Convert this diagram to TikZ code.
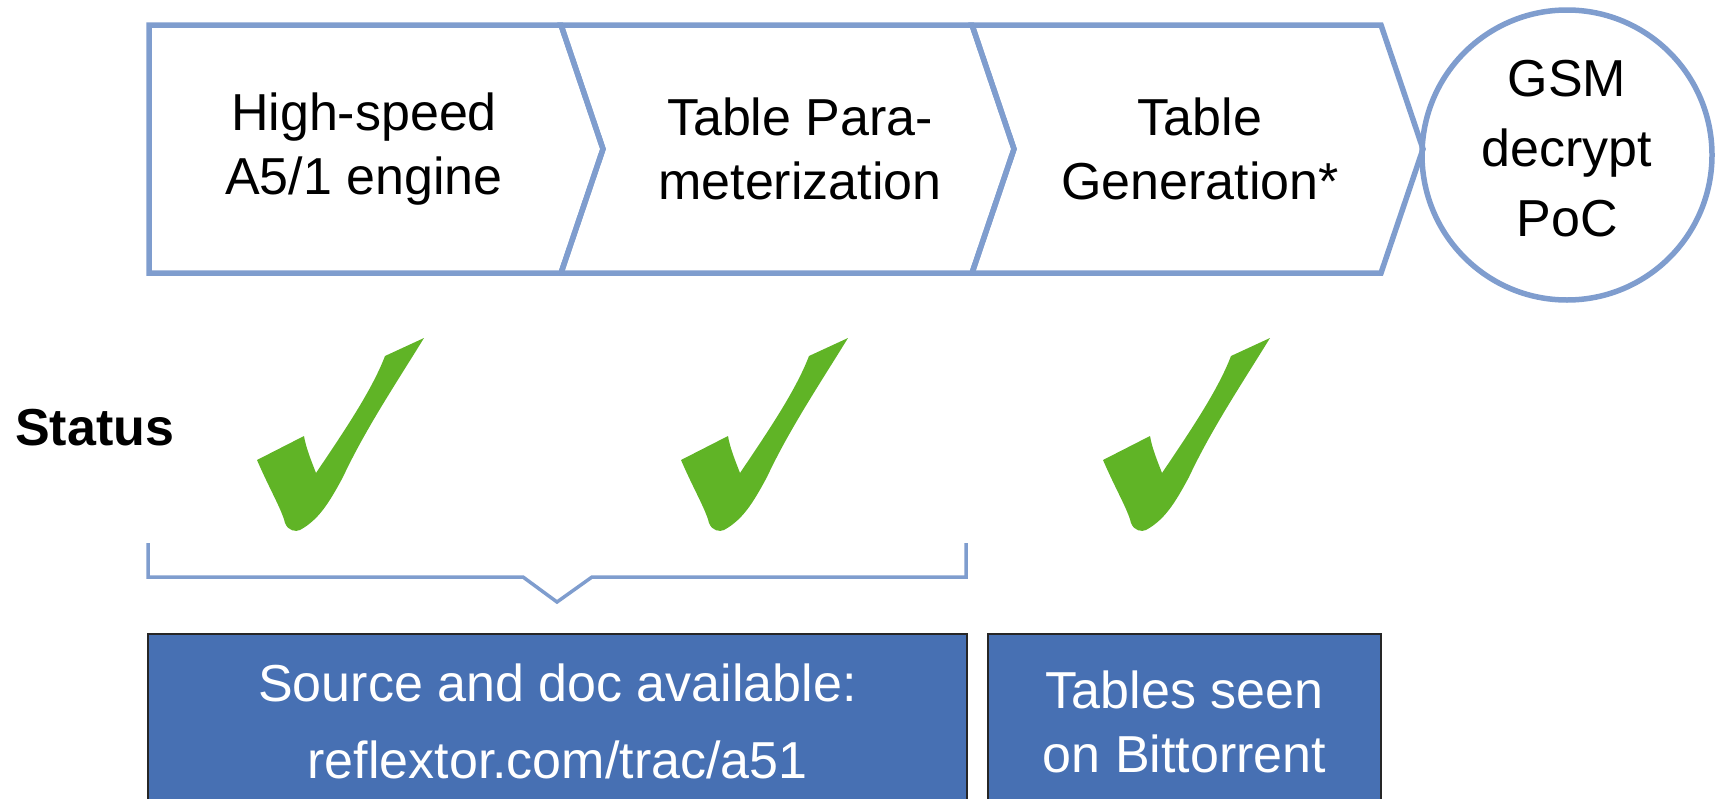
\documentclass[tikz,border=0pt]{standalone}
\usepackage{fontspec}
\setmainfont{Liberation Sans}
\usetikzlibrary{shapes.geometric}
\definecolor{chevline}{RGB}{127,157,206}
\definecolor{okgreen}{RGB}{96,180,38}
\definecolor{boxblue}{RGB}{71,112,179}

\begin{document}
\begin{tikzpicture}
		[x=1pt,y=-1pt,
		every node/.style={font=\fontsize{52}{64}\selectfont,align=center,inner sep=0pt},
		stage/.style={draw=chevline,line width=5.5pt,line join=miter},
		bracketline/.style={draw=chevline,line width=3.5pt},
		notebox/.style={draw=black!85,line width=1.5pt,fill=boxblue,text=white,anchor=north,minimum height=176pt}]
		\useasboundingbox (0,0) rectangle (1718,798);
		\clip (0,0) rectangle (1718,798);
		%% process chevrons
		\draw[stage] (149,25) -- (561,25) -- (603,149) -- (561,273) -- (149,273) -- cycle;
		\foreach \l/\r in {561/972,972/1381}
		{
			\draw[stage] (\l,25) -- (\r,25) -- (\r+42,149) -- (\r,273) -- (\l,273) -- (\l+42,149) -- cycle;
		}
		\node (engine) at (364,149) {High-speed\\A5/1 engine};
		\node (param) at (800,149) {Table Para-\\meterization};
		\node (gen) at (1200,149) {Table\\Generation*};
		\node[stage,circle,minimum size=290pt,text depth=13pt,font=\fontsize{52}{70}\selectfont] (poc) at (1567,155) {GSM\\decrypt\\PoC};
		%%
		\node[font=\fontsize{52}{64}\selectfont\bfseries,anchor=base west] (status) at (15,445) {Status};
		\foreach \dx in {0,424,846}
		{
			\fill[okgreen,shift={(\dx,0)}] (424,338) -- (385,356)
				.. controls (372,390) and (345,430) .. (316,473)
				.. controls (311,460) and (306,448) .. (304,436)
				-- (257,460)
				.. controls (270,490) and (282,510) .. (285,523)
				.. controls (288,531) and (296,532) .. (300,530)
				.. controls (318,520) and (328,505) .. (343,477)
				.. controls (365,430) and (395,385) .. (424,338) -- cycle;
		}
		%% bracket and notes
		\draw[bracketline] (148,543) |- (523,577) -- (557,602) -- (592,577) -| (966,543);
		\node[notebox,minimum width=819pt,font=\fontsize{52}{77}\selectfont] (src) at (557.5,633) {Source and doc available:\\reflextor.com/trac/a51};
		\node[notebox,minimum width=393pt] (tables) at (1184.5,633) {Tables seen\\on Bittorrent};
\end{tikzpicture}
\end{document}
